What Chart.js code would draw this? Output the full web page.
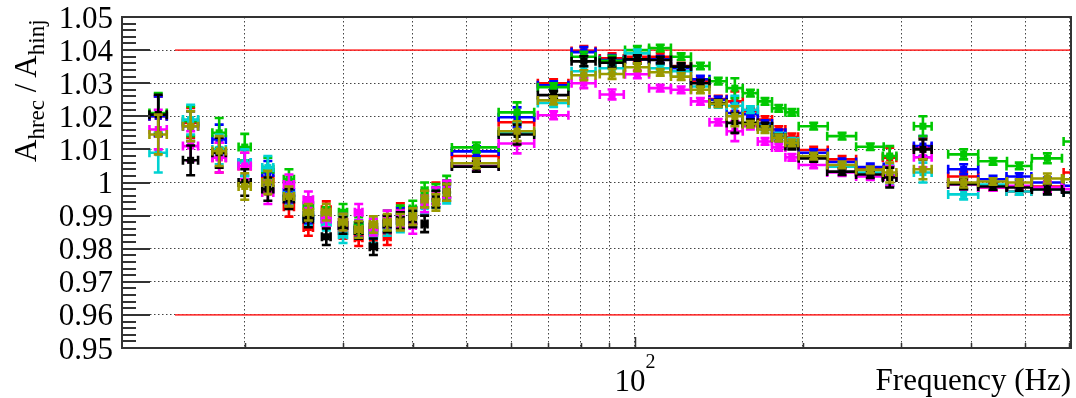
<!DOCTYPE html>
<html><head><meta charset="utf-8">
<script src="https://cdn.jsdelivr.net/npm/chart.js@4/dist/chart.umd.min.js"></script>
<style>
html,body{margin:0;padding:0;background:#fff;}
#wrap{position:relative;width:1076px;height:398px;}
canvas{display:block;}
#labels{position:absolute;left:0;top:0;width:1076px;height:398px;pointer-events:none;}
.lbl{position:absolute;white-space:nowrap;font-family:'Liberation Serif','Times New Roman',Tinos,serif !important;font-size:31px;line-height:31px;color:#000;}
.lbl sub{font-size:23px;line-height:0;vertical-align:-8px;font-family:inherit !important;}
.lbl sup{font-size:20px;line-height:0;position:relative;top:-4px;vertical-align:top;font-family:inherit !important;}
</style>
</head><body>
<div id="wrap"><canvas id="c" width="1076" height="398"></canvas><div id="labels"></div></div>
<script>
// ---------------- DATA ----------------
const freqHz = [14,16,18,20,22,24,26,28,30,32,34,36,38,40,42,44,46,
  52,61.5,71.5,81,91,101,111,121,131,141,151,161,171,181,191,
  209,235,264,286,328,388,438,488,548,620];
const freqHalfWidth = [0.5,0.5,0.5,0.5,0.5,0.5,0.5,0.5,0.5,0.5,0.5,0.5,0.5,0.5,0.5,0.5,0.5,
  5,4.5,4.5,4,4.5,5,5,5,5,5,5,5,5,5,5,
  12.5,14,15,8,12,24,26,25,34,34];
const ratioErr = [0.006,0.0045,0.0045,0.004,0.0035,0.003,0.0025,0.0025,0.0025,0.0025,0.0025,0.0025,0.0025,0.0025,0.0025,0.0025,0.0025,
  0.0015,0.003,0.0012,0.0015,0.0015,0.0012,0.001,0.001,0.001,0.001,0.003,0.001,0.001,0.001,0.001,
  0.001,0.001,0.001,0.003,0.003,0.0015,0.001,0.001,0.0015,0.001];

const seriesBlack = [1.0205,1.0067,1.009,1.000,0.998,0.995,0.989,0.9836,0.987,0.9855,0.9806,0.9875,0.9885,0.989,0.9875,0.995,0.997,
  1.0048,1.0145,1.0264,1.0366,1.0362,1.0372,1.037,1.035,1.030,1.024,1.018,1.018,1.017,1.0135,1.011,
  1.0073,1.0033,1.0024,1.0015,1.010,0.9995,0.9988,0.9985,0.9979,0.997];
const seriesRed = [1.020,1.018,1.0075,1.005,1.001,0.9927,0.9864,0.9918,0.9855,0.9833,0.985,0.9836,0.9912,0.990,0.995,0.9975,0.998,
  1.008,1.0182,1.030,1.0397,1.0375,1.038,1.038,1.0352,1.0306,1.0252,1.0245,1.0215,1.019,1.016,1.0138,
  1.0098,1.007,1.004,1.0075,1.0105,1.0018,0.9985,0.9973,0.9988,1.003];
const seriesGreen = [1.021,1.0185,1.015,1.0107,1.004,1.001,0.993,0.990,0.991,0.987,0.9865,0.989,0.9905,0.992,0.9975,0.997,0.9995,
  1.0106,1.0212,1.0288,1.038,1.0368,1.040,1.0406,1.038,1.0352,1.0306,1.0285,1.027,1.0245,1.0224,1.0212,
  1.017,1.014,1.0108,1.008,1.017,1.0085,1.0064,1.005,1.0073,1.0124];
const seriesBlue = [1.020,1.017,1.013,1.006,1.003,0.997,0.990,0.989,0.987,0.986,0.9855,0.9875,0.990,0.990,0.995,0.996,0.998,
  1.0094,1.0197,1.0294,1.0394,1.037,1.0372,1.0372,1.0345,1.0312,1.025,1.021,1.0206,1.0178,1.015,1.0118,
  1.009,1.0062,1.0047,1.002,1.011,1.004,1.001,1.0018,1.000,0.999];
const seriesCyan = [1.009,1.019,1.010,1.006,1.0045,0.996,0.9894,0.988,0.9842,0.9855,0.9842,0.9864,0.9875,0.989,0.993,0.995,0.9962,
  1.005,1.015,1.024,1.0336,1.0345,1.039,1.0345,1.0336,1.029,1.0236,1.0232,1.022,1.0168,1.014,1.0124,
  1.0076,1.0048,1.003,1.0022,1.003,0.9964,0.9994,0.9973,0.998,0.997];
const seriesMagenta = [1.016,1.011,1.0075,1.005,0.997,0.9994,0.9948,0.989,0.988,0.991,0.9865,0.989,0.989,0.987,0.9935,0.996,0.998,
  1.005,1.0118,1.0203,1.030,1.0266,1.0327,1.0285,1.028,1.0245,1.0182,1.0155,1.017,1.0124,1.0106,1.0076,
  1.0053,1.003,1.0018,1.002,1.0076,0.9994,0.9985,0.999,0.9985,0.998];
const seriesOlive = [1.0145,1.017,1.0095,0.9988,1.000,0.9958,0.991,0.991,0.988,0.9858,0.9873,0.988,0.988,0.9897,0.995,0.994,0.997,
  1.0058,1.0155,1.0248,1.0324,1.0328,1.0348,1.0333,1.032,1.028,1.0238,1.020,1.0176,1.016,1.0135,1.012,
  1.008,1.0053,1.0038,1.003,1.004,1.000,1.0003,1.000,1.0012,1.001];

const limitLevels = [1.04, 0.96];
const limitFreqRange = [15, 700];

const xTickValues = [20,30,40,50,60,70,80,90,100,200,300,400,500,600];
const xTickLabels = ['','','','','','','','',['10','2'],'','','','',''];
const yTickValues = [0.95,0.96,0.97,0.98,0.99,1.00,1.01,1.02,1.03,1.04,1.05];
const yTickLabels = ['0.95','0.96','0.97','0.98','0.99','1','1.01','1.02','1.03','1.04','1.05'];

const xTitle = 'Frequency (Hz)';
const yTitleParts = [['A',false],['hrec',true],[' / A',false],['hinj',true]];

// ---------------- CHART ----------------
const SERIF = "'Liberation Serif', 'Times New Roman', Tinos, serif";
function pts(vals){ return vals.map((v,i)=>({x:freqHz[i], y:v, ex:freqHalfWidth[i], ey:ratioErr[i]})); }

// first in list = drawn on top
const seriesDefs = [
  ['olive', seriesOlive, '#9a9a00'],
  ['black', seriesBlack, '#000000'],
  ['magenta', seriesMagenta, '#ff00ff'],
  ['cyan', seriesCyan, '#00d2d2'],
  ['green', seriesGreen, '#00c800'],
  ['blue', seriesBlue, '#0000ff'],
  ['red', seriesRed, '#ff0000']
];

const datasets = seriesDefs.map(([name, vals, col]) => ({
  label: name, data: pts(vals), errorBars: true,
  backgroundColor: col, borderColor: col, borderWidth: 0,
  pointStyle: 'rect', pointRadius: 5, pointHoverRadius: 5, showLine: false
}));
limitLevels.forEach(lv => datasets.push({
  type: 'line', label: 'limit', data: limitFreqRange.map(f => ({x:f, y:lv})),
  borderColor: 'rgba(255,30,30,0.85)', borderWidth: 1.8, pointRadius: 0, fill: false
}));

const errorBarPlugin = {
  id: 'errorBars',
  beforeDatasetDraw(chart, args) {
    const ds = chart.data.datasets[args.index];
    if (!ds.errorBars) return;
    const xs = chart.scales.x, ys = chart.scales.y, ctx = chart.ctx, a = chart.chartArea;
    ctx.save();
    ctx.beginPath(); ctx.rect(a.left, a.top, a.right - a.left, a.bottom - a.top); ctx.clip();
    ctx.strokeStyle = ds.borderColor; ctx.lineWidth = 2.6;
    const cap = 4.5;
    ds.data.forEach(p => {
      const px = xs.getPixelForValue(p.x), py = ys.getPixelForValue(p.y);
      const xl = xs.getPixelForValue(p.x - p.ex), xr = xs.getPixelForValue(p.x + p.ex);
      const yt = ys.getPixelForValue(p.y + p.ey), yb = ys.getPixelForValue(p.y - p.ey);
      ctx.beginPath();
      ctx.moveTo(xl, py); ctx.lineTo(xr, py);
      ctx.moveTo(xl, py - cap); ctx.lineTo(xl, py + cap);
      ctx.moveTo(xr, py - cap); ctx.lineTo(xr, py + cap);
      ctx.moveTo(px, yt); ctx.lineTo(px, yb);
      ctx.moveTo(px - cap, yt); ctx.lineTo(px + cap, yt);
      ctx.moveTo(px - cap, yb); ctx.lineTo(px + cap, yb);
      ctx.stroke();
    });
    ctx.restore();
  }
};

const framePlugin = {
  id: 'frame',
  afterDraw(chart) {
    const ctx = chart.ctx, a = chart.chartArea, xs = chart.scales.x, ys = chart.scales.y;
    ctx.save();
    ctx.strokeStyle = '#333'; ctx.lineWidth = 2;
    ctx.strokeRect(a.left, a.top, a.right - a.left, a.bottom - a.top);
    ctx.beginPath();
    for (let k = 0; k <= 50; k++) {
      const py = Math.round(ys.getPixelForValue(0.95 + k * 0.002));
      const len = (k % 5 === 0) ? 28 : 14;
      ctx.moveTo(a.left, py); ctx.lineTo(a.left + len, py);
    }
    ctx.stroke();
    ctx.lineWidth = 1.5;
    ctx.beginPath();
    xTickValues.forEach(v => {
      const px = Math.round(xs.getPixelForValue(v)) + 0.5;
      const len = (v === 100) ? 11 : 5;
      ctx.moveTo(px, a.bottom); ctx.lineTo(px, a.bottom - len);
    });
    ctx.stroke();
    ctx.restore();
  }
};

// text labels as real DOM text, placed with the chart's own scales
const labelPlugin = {
  id: 'domLabels',
  afterRender(chart) {
    const box = document.getElementById('labels');
    box.innerHTML = '';
    const a = chart.chartArea, xs = chart.scales.x, ys = chart.scales.y;
    const mk = () => {
      const d = document.createElement('div'); d.className = 'lbl';
      d.style.setProperty('font-family', SERIF, 'important');
      box.appendChild(d); return d;
    };
    yTickValues.forEach((v, i) => {
      const d = mk(); d.textContent = yTickLabels[i];
      d.style.right = (1076 - (a.left - 9)) + 'px';
      d.style.top = (ys.getPixelForValue(v) - 15.5) + 'px';
    });
    xTickValues.forEach((v, i) => {
      const t = xTickLabels[i]; if (!t) return;
      const d = mk();
      d.appendChild(document.createTextNode(t[0]));
      const s = document.createElement('sup'); s.textContent = t[1]; d.appendChild(s);
      d.style.left = xs.getPixelForValue(v) + 'px';
      d.style.top = '365px';
      d.style.transform = 'translateX(-50%)';
    });
    const xt = mk(); xt.textContent = xTitle;
    xt.style.right = (1076 - a.right) + 'px'; xt.style.top = '364px';
    const yt = mk();
    yTitleParts.forEach(([t, sub]) => {
      if (sub) { const s = document.createElement('sub'); s.textContent = t; yt.appendChild(s); }
      else yt.appendChild(document.createTextNode(t));
    });
    yt.style.left = '10px'; yt.style.top = '162px';
    yt.style.transformOrigin = '0 0'; yt.style.transform = 'rotate(-90deg)';
  }
};

const chart = new Chart(document.getElementById('c'), {
  type: 'scatter',
  data: { datasets },
  options: {
    responsive: false, animation: false, devicePixelRatio: 1,
    layout: { padding: { top: 17, right: 3, left: 0, bottom: 0 } },
    plugins: { legend: { display: false }, tooltip: { enabled: false } },
    scales: {
      x: {
        type: 'logarithmic', min: 12.055, max: 604.1, bounds: 'data',
        afterBuildTicks: s => { s.ticks = xTickValues.map(v => ({ value: v })); },
        afterFit: s => { s.height = 50; s.paddingLeft = 0; s.paddingRight = 0; },
        grid: { color: '#444', lineWidth: 1, drawTicks: false },
        border: { display: false, dash: [1.5, 2.5] },
        ticks: { display: false, autoSkip: false, maxRotation: 0 }
      },
      y: {
        type: 'linear', min: 0.95, max: 1.05,
        afterBuildTicks: s => { s.ticks = yTickValues.map(v => ({ value: v })); },
        afterFit: s => { s.width = 122; s.paddingTop = 0; s.paddingBottom = 0; },
        grid: { color: '#444', lineWidth: 1, drawTicks: false },
        border: { display: false, dash: [1.5, 2.5] },
        ticks: { display: false, autoSkip: false }
      }
    }
  },
  plugins: [errorBarPlugin, framePlugin, labelPlugin]
});
</script>
</body></html>
